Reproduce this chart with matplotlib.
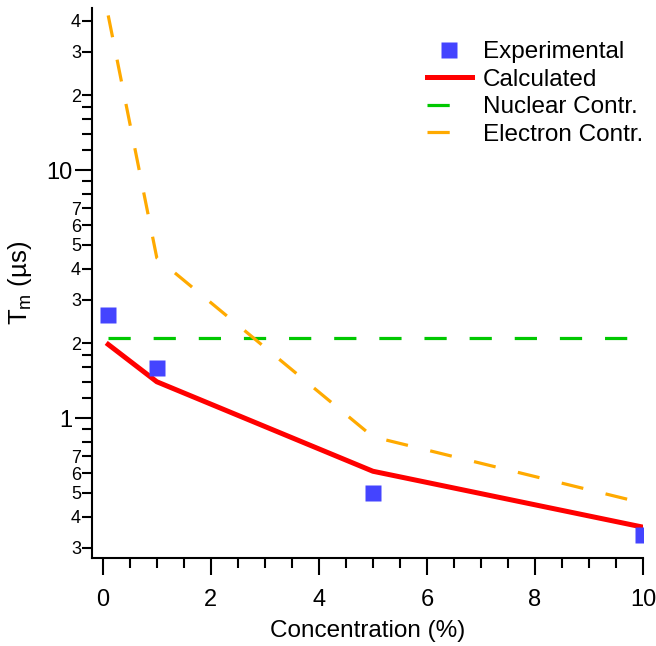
import matplotlib
matplotlib.use('Agg')
import matplotlib.pyplot as plt
from matplotlib.ticker import FixedLocator, FixedFormatter

plt.rcParams['font.family'] = ['Liberation Sans', 'DejaVu Sans']
plt.rcParams['mathtext.fontset'] = 'custom'
plt.rcParams['mathtext.rm'] = 'Liberation Sans'
plt.rcParams['mathtext.it'] = 'Liberation Sans:italic'
plt.rcParams['lines.scale_dashes'] = False

# data
conc = [0.1, 1, 5, 10]
experimental = [2.6, 1.59, 0.50, 0.337]
calculated = [1.98, 1.40, 0.61, 0.363]
nuclear = [2.10, 2.10, 2.10, 2.10]
electron = [42.0, 4.42, 0.84, 0.454]

y_major = [1, 10]
y_minor = [0.3, 0.4, 0.5, 0.6, 0.7, 0.8, 0.9, 1.2, 1.4, 1.6, 1.8,
           2, 3, 4, 5, 6, 7, 8, 9, 12, 14, 16, 18, 20, 30, 40]
y_minor_labels = ['3', '4', '5', '6', '7', '', '', '', '', '', '',
                  '2', '3', '4', '5', '6', '7', '', '', '', '', '', '', '2', '3', '4']

fig = plt.figure(figsize=(6.56, 6.46), dpi=100)
ax = fig.add_axes([92 / 656, 88 / 646, 551 / 656, 550 / 646])

dash = (16, 16.5)
ax.plot(conc, nuclear, color='#00C800', lw=2.3, dashes=dash, label='Nuclear Contr.', zorder=2)
ax.plot(conc, electron, color='#FFAA00', lw=2.3, dashes=dash, label='Electron Contr.', zorder=2)
ax.plot(conc, calculated, color='#FF0000', lw=3.6, label='Calculated', zorder=3)
ax.plot(conc, experimental, ls='none', marker='s', ms=11.5, mec='none',
        color='#4444FF', label='Experimental', zorder=4)

ax.set_yscale('log')
ax.set_xlim(-0.2, 10)
ax.set_ylim(0.2726, 45)

ax.xaxis.set_major_locator(FixedLocator([0, 2, 4, 6, 8, 10]))
ax.xaxis.set_minor_locator(FixedLocator([i * 0.5 for i in range(21) if i % 4 != 0]))
ax.yaxis.set_major_locator(FixedLocator(y_major))
ax.yaxis.set_major_formatter(FixedFormatter(['1', '10']))
ax.yaxis.set_minor_locator(FixedLocator(y_minor))
ax.yaxis.set_minor_formatter(FixedFormatter(y_minor_labels))

for s in ['top', 'right']:
    ax.spines[s].set_visible(False)
for s in ['left', 'bottom']:
    ax.spines[s].set_linewidth(1.5)

ax.tick_params(which='major', length=12, width=1.5, labelsize=17)
ax.tick_params(which='minor', length=7, width=1.5)
ax.tick_params(axis='x', which='major', pad=10)
ax.tick_params(axis='y', which='major', pad=2)
ax.tick_params(axis='y', which='minor', labelsize=13, pad=1)

ax.set_xlabel('Concentration (%)', fontsize=17.5, labelpad=7)
ax.set_ylabel(r'T$_{\mathrm{m}}$ (µs)', fontsize=18.5, labelpad=9)

handles, labels = ax.get_legend_handles_labels()
order = [3, 2, 0, 1]
ax.legend([handles[i] for i in order], [labels[i] for i in order],
          loc='upper left', bbox_to_anchor=(427 / 656, 0.936), bbox_transform=fig.transFigure,
          frameon=False, fontsize=17.5, borderpad=0, borderaxespad=0,
          handlelength=1.85, handletextpad=0.45, labelspacing=0.225, numpoints=1)

fig.savefig('out.png', dpi=100)
